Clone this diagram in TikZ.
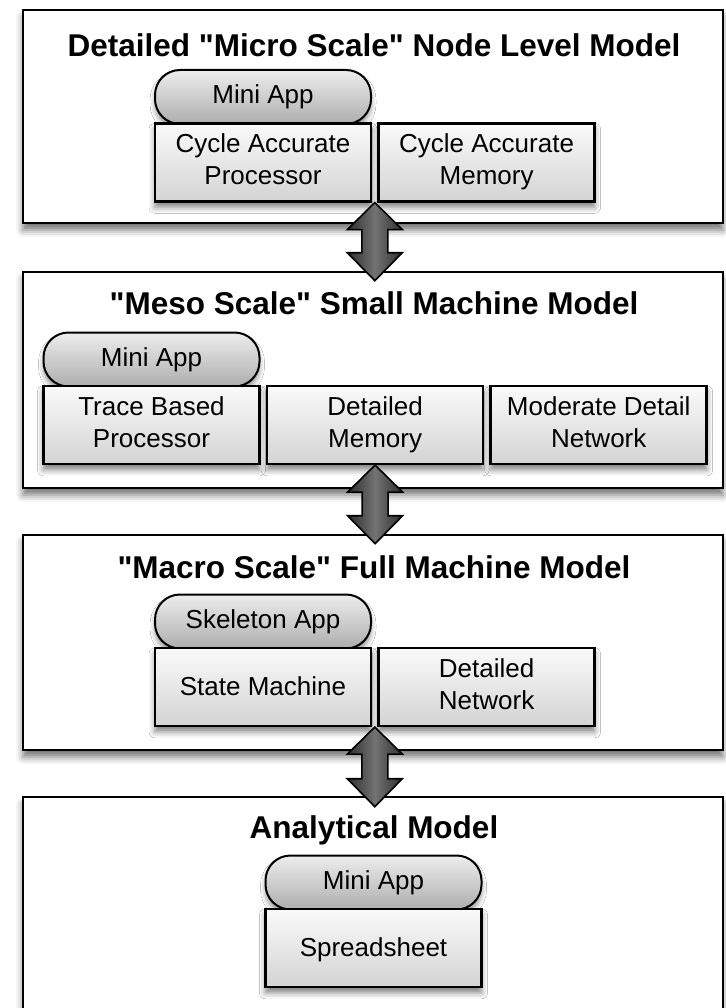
\documentclass[tikz,border=0pt]{standalone}
\usepackage{fontspec}
\setmainfont{Liberation Sans}
\usepackage{tikz}
\usetikzlibrary{positioning,calc,shadows.blur}

\tikzset{
  panel/.style={draw=black, line width=2.6pt, fill=white, minimum width=700pt,
    blur shadow={shadow xshift=0pt, shadow yshift=-7pt, shadow blur radius=7pt, shadow opacity=55}},
  paneltitle/.style={font=\fontsize{31.5}{36}\selectfont\bfseries, inner sep=0pt},
  appbox/.style={draw=black, line width=2pt, rounded corners=25pt,
    top color=black!7, bottom color=black!32, minimum width=216pt, minimum height=54pt,
    font=\fontsize{26}{32}\selectfont, inner sep=0pt,
    blur shadow={shadow xshift=0pt, shadow yshift=-5pt, shadow blur radius=5pt, shadow opacity=45}},
  simbox/.style={draw=black, line width=2.6pt, top color=black!2, bottom color=black!17,
    minimum width=216pt, minimum height=78pt, align=center, inner sep=0pt,
    font=\fontsize{26}{32}\selectfont,
    execute at begin node=\rule{0pt}{23pt}, execute at end node=\rule[-6pt]{0pt}{6pt},
    blur shadow={shadow xshift=0pt, shadow yshift=-6pt, shadow blur radius=6pt, shadow opacity=50}},
  bigarrow/.style={draw=black, line width=1.6pt, line join=miter,
    left color=black!82, right color=black!82, middle color=black!55}
}

\begin{document}
\begin{tikzpicture}[x=1pt,y=-1pt]
    \useasboundingbox (0,0) rectangle (725,1008);

    % micro scale
    \node[panel, minimum height=213pt] (micro) at (373,116.5) {};
    \node[paneltitle] (microtitle) at (374,45) {Detailed \textquotedbl Micro Scale\textquotedbl{} Node Level Model};
    \node[appbox] (app1) at (263,97) {Mini App};
    \node[simbox, below=-3pt of app1] (proc1) {Cycle Accurate\\Processor};
    \node[simbox, right=5pt of proc1] (mem1) {Cycle Accurate\\Memory};

    % meso scale
    \node[panel, minimum height=216pt] (meso) at (373,380) {};
    \node[paneltitle] (mesotitle) at (374,303) {\textquotedbl Meso Scale\textquotedbl{} Small Machine Model};
    \node[appbox] (app2) at (151.5,359.5) {Mini App};
    \node[simbox, below=-3pt of app2] (proc2) {Trace Based\\Processor};
    \node[simbox, right=5pt of proc2] (mem2) {Detailed\\Memory};
    \node[simbox, right=5pt of mem2] (net2) {Moderate Detail\\Network};

    % macro scale
    \node[panel, minimum height=215pt] (macro) at (373,642.5) {};
    \node[paneltitle] (macrotitle) at (374,567) {\textquotedbl Macro Scale\textquotedbl{} Full Machine Model};
    \node[appbox] (app3) at (263,621.5) {Skeleton App};
    \node[simbox, below=-3pt of app3] (state3) {State Machine};
    \node[simbox, right=5pt of state3] (net3) {Detailed\\Network};

    % analytical
    \node[panel, minimum height=243pt] (analytic) at (373,918.5) {};
    \node[paneltitle] (analytictitle) at (374,830) {Analytical Model};
    \node[appbox] (app4) at (373.5,882.5) {Mini App};
    \node[simbox, below=-3pt of app4] (sheet4) {Spreadsheet};

    % links between the levels
    \coordinate (a1t) at ($(proc1.south east)!0.5!(mem1.south west)$);
    \coordinate (a1b) at ($(a1t |- meso.north)+(0,10)$);
    \coordinate (a2t) at (mem2.south);
    \coordinate (a2b) at ($(a2t |- macro.north)+(0,10)$);
    \coordinate (a3t) at ($(state3.south east)!0.5!(net3.south west)$);
    \coordinate (a3b) at ($(a3t |- analytic.north)+(0,11)$);

    \foreach \t/\b in {a1t/a1b,a2t/a2b,a3t/a3b}
      \draw[bigarrow] (\t) -- ($(\t)+(27.5,27)$) -- ($(\t)+(13,27)$) --
        ($(\b)+(13,-28)$) -- ($(\b)+(27.5,-28)$) -- (\b) --
        ($(\b)+(-27.5,-28)$) -- ($(\b)+(-13,-28)$) --
        ($(\t)+(-13,27)$) -- ($(\t)+(-27.5,27)$) -- cycle;
\end{tikzpicture}
\end{document}
